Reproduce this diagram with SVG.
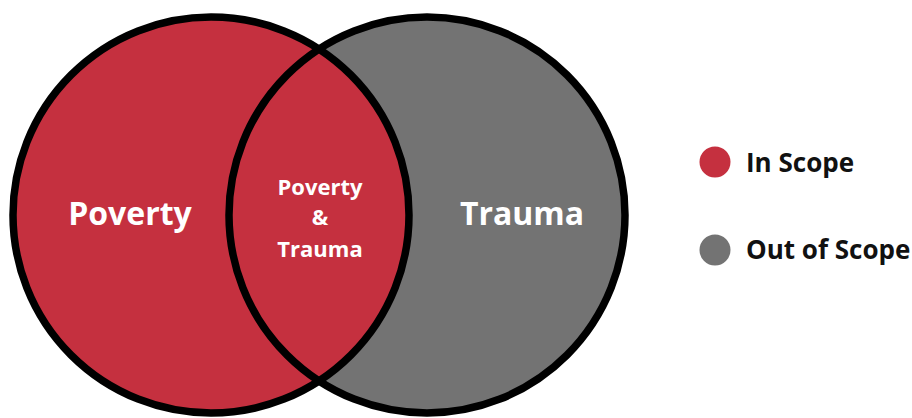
<svg xmlns="http://www.w3.org/2000/svg" width="912" height="418" viewBox="0 0 912 418">
<style>
.ring{fill:none;stroke:#000;stroke-width:7.5}
.red{fill:#C5303F}
.gray{fill:#737373}
.t{font-family:"Open Sans","Noto Sans","DejaVu Sans",sans-serif;font-weight:bold;fill:#fff;text-anchor:middle}
.lg{font-family:"Open Sans","Noto Sans","DejaVu Sans",sans-serif;font-weight:bold;fill:#111;font-size:26px}
</style>
<rect width="912" height="418" fill="#fff"/>
<g id="poverty">
<circle class="red" cx="211" cy="215" r="198"/>
</g>
<g id="trauma">
<circle class="gray" cx="427" cy="215" r="198"/>
</g>
<g id="overlap">
<path class="red" d="M319 49.05 A198 198 0 0 1 319 380.95 A198 198 0 0 1 319 49.05 Z"/>
</g>
<g id="outlines">
<circle class="ring" cx="211" cy="215" r="198"/>
<circle class="ring" cx="427" cy="215" r="198"/>
</g>
<g id="labels">
<text class="t" x="130" y="225" font-size="32">Poverty</text>
<text class="t" x="522" y="225" font-size="32">Trauma</text>
<text class="t" x="320" y="195" font-size="22">Poverty</text>
<text class="t" x="320" y="225" font-size="22">&amp;</text>
<text class="t" x="320" y="257" font-size="22">Trauma</text>
</g>
<g id="legend-in">
<circle class="red" cx="715" cy="162" r="15.5"/>
<text class="lg" x="746" y="172">In Scope</text>
</g>
<g id="legend-out">
<circle class="gray" cx="715" cy="250" r="15.5"/>
<text class="lg" x="746" y="259">Out of Scope</text>
</g>
</svg>
